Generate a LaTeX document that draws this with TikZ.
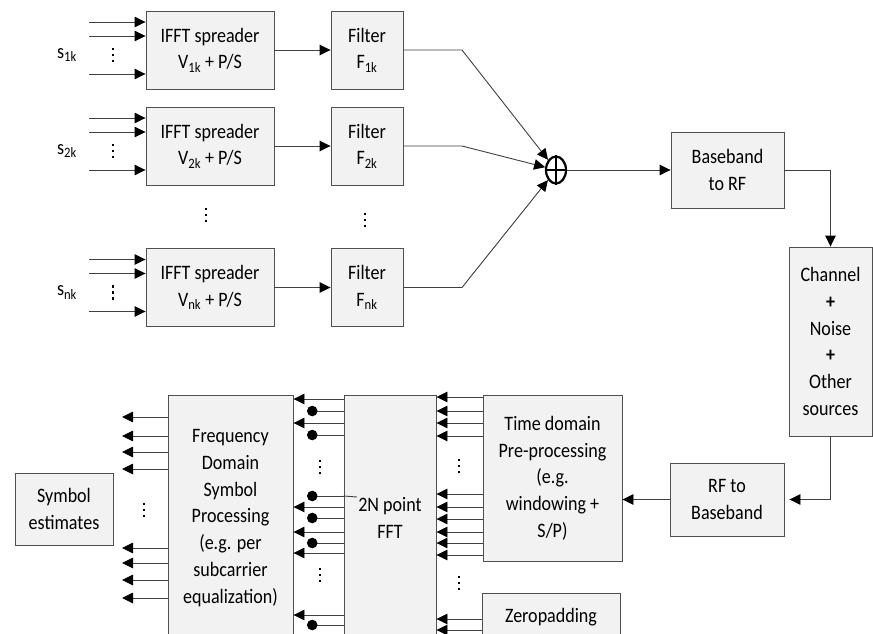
\documentclass[tikz,border=0pt]{standalone}
\usepackage{fontspec}
\setmainfont{Carlito}[FakeStretch=0.88]
\usetikzlibrary{arrows.meta,shapes.geometric}
\definecolor{boxfill}{RGB}{242,242,242}
\definecolor{boxline}{RGB}{80,80,80}
\definecolor{wire}{RGB}{64,64,64}
\tikzset{
    blk/.style={draw=boxline, fill=boxfill, line width=0.9pt, align=center, inner sep=0pt},
    wr/.style={draw=wire, line width=0.9pt},
    tri/.style={wr, -{Triangle[length=11pt,width=10.5pt,color=black]}},
    dotend/.style={wr, -{Circle[length=10.5pt,color=black]}},
    vdts/.pic={\foreach \d in {-6,0,6} \fill (-1.4,\d-1.4) rectangle (1.4,\d+1.4);}
}

\begin{document}
\begin{tikzpicture}[x=1pt, y=-1pt, font=\fontsize{20.5}{26.7}\selectfont]
    \useasboundingbox (0,0) rectangle (873,634);
    \clip (0,0) rectangle (873,634);

    \node[ellipse, draw=black, line width=2.2pt, minimum width=20pt, minimum height=27pt, inner sep=0pt] (sum) at (556,170) {};
    \draw[line width=2.2pt] (sum.north) -- (sum.south) (sum.west) -- (sum.east);

    \foreach \y/\r in {50/1, 146/2, 287.5/n} {
        \node[blk, minimum width=128pt, minimum height=78pt] (ifft\r) at (210,\y) {IFFT spreader\\V\textsubscript{\r k} + P/S};
        \node[blk, minimum width=72pt, minimum height=78pt] (filt\r) at (367,\y) {Filter\\F\textsubscript{\r k}};
        \node (s\r) at (67,\y+5) {s\textsubscript{\r k}};
        \foreach \d[count=\i] in {-28,-14,24} {
            \coordinate (in\r\i) at (89,\y+\d);
            \draw[tri] (in\r\i) -- (ifft\r.west |- in\r\i);
        }
        \pic at (113,\y+5) {vdts};
        \coordinate (k\r) at (462,\y);
        \draw[tri] (ifft\r.east) -- (filt\r.west);
        \draw[tri] (filt\r.east) -- (k\r) -- (sum);
    }
    \pic at (206,215) {vdts};
    \pic at (365,220) {vdts};

    \node[blk, minimum width=113pt, minimum height=76pt] (bb) at (727.5,170) {Baseband\\to RF};
    \node[blk, minimum width=83pt, minimum height=189pt] (chan) at (830.5,341.5) {Channel\\\textbf{+}\\Noise\\\textbf{+}\\Other\\sources};
    \node[blk, minimum width=114pt, minimum height=73pt] (rfbb) at (727,499.5) {RF to\\Baseband};
    \node[blk, minimum width=139pt, minimum height=166pt] (time) at (552.5,478) {Time domain\\Pre-processing\\(e.g.\\windowing +\\S/P)};
    \node[blk, minimum width=138pt, minimum height=48pt] (zero) at (551,617) {Zeropadding};
    \node[blk, minimum width=92pt, minimum height=246pt] (fft) at (390,518) {2N point\\FFT};
    \node[blk, minimum width=125pt, minimum height=246pt] (freq) at (230.5,518) {Frequency\\Domain\\Symbol\\Processing\\(e.g. per\\subcarrier\\equalization)};
    \node[blk, minimum width=98pt, minimum height=72pt] (sym) at (64,509) {Symbol\\estimates};

    \draw[tri] (sum.east) -- (bb.west);
    \draw[tri] (bb.east) -| (chan.north);
    \draw[tri, shorten >=5pt] (chan.south) |- (rfbb.east);
    \draw[tri] (rfbb.west) -- (time.east |- rfbb.west);

    \foreach \y in {397,411,423,436,494,507,519,532,543,555}
        \draw[tri] (time.west |- 0,\y) -- (fft.east |- 0,\y);
    \foreach \y in {619,630}
        \draw[tri] (zero.west |- 0,\y) -- (fft.east |- 0,\y);
    \foreach \y in {399,423,507,532,553,615}
        \draw[tri] (fft.west |- 0,\y) -- (freq.east |- 0,\y);
    \foreach \y in {411,435,496,518,543,625} {
        \coordinate (d\y) at (307,\y);
        \draw[dotend] (fft.west |- d\y) -- (d\y);
    }
    \coordinate (lbl) at (357,497);
    \draw[wr] (fft.west |- d496) -- (lbl);
    \foreach \y in {417,436,452,469,548,563,580,598} {
        \coordinate (o\y) at (122,\y);
        \draw[tri] (freq.west |- o\y) -- (o\y);
    }
    \pic at (144,510) {vdts};
    \pic at (320,467) {vdts};
    \pic at (320,575) {vdts};
    \pic at (459,466) {vdts};
    \pic at (459,583) {vdts};
\end{tikzpicture}
\end{document}
